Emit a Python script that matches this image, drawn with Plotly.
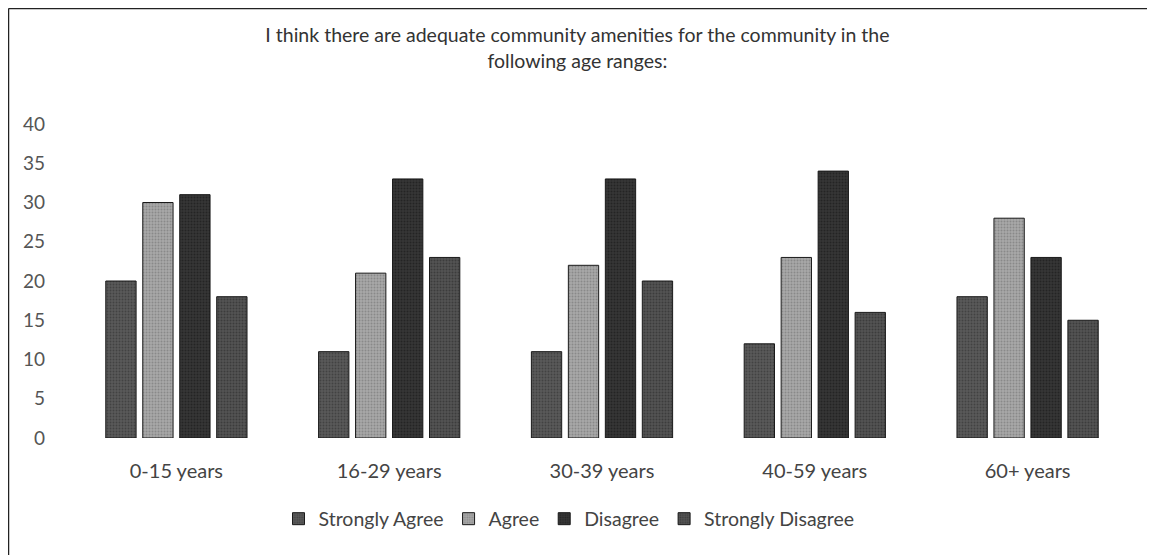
import plotly.graph_objects as go

# Survey responses by age range
age_ranges = ['0-15 years', '16-29 years', '30-39 years', '40-59 years', '60+ years']
strongly_agree = [20, 11, 11, 12, 18]
agree = [30, 21, 22, 23, 28]
disagree = [31, 33, 33, 34, 23]
strongly_disagree = [18, 23, 20, 16, 15]

series = [
    ('Strongly Agree', strongly_agree, '#5a5a5a', '#2a2a2a'),
    ('Agree', agree, '#a8a8a8', '#6a6a6a'),
    ('Disagree', disagree, '#363636', '#111111'),
    ('Strongly Disagree', strongly_disagree, '#535353', '#262626'),
]

fig = go.Figure()
for name, vals, col, dot in series:
    fig.add_trace(go.Bar(
        x=age_ranges, y=vals, name=name,
        marker=dict(
            color=col,
            line=dict(color='#1a1a1a', width=1),
            pattern=dict(shape='.', fgcolor=dot, bgcolor=col, size=3, solidity=0.35),
        ),
    ))

font_family = 'Lato, Open Sans, sans-serif'

# the page adds ~7px of body margin, margins below compensate for it
L, R, T, B = 62, 29, 116, 125
PW, PH = 1155 - L - R, 555 - T - B

fig.update_layout(
    width=1155, height=555,
    margin=dict(l=L, r=R, t=T, b=B),
    paper_bgcolor='white', plot_bgcolor='white',
    barmode='group', bargap=0.305, bargroupgap=0.18,
    title=dict(
        text='I think there are adequate community amenities for the community in the<br>following age ranges:',
        x=0.493, xanchor='center', y=0.938, yanchor='middle',
        font=dict(family=font_family, size=19.5, color='#333333'),
    ),
    font=dict(family=font_family, color='#333333'),
    xaxis=dict(
        showgrid=False, showline=False, zeroline=False,
        tickfont=dict(size=20, color='#444444'), ticklabelstandoff=19,
    ),
    yaxis=dict(
        range=[0, 40], dtick=5, showgrid=False, showline=False, zeroline=False,
        tickfont=dict(size=19, color='#555555'), ticklabelstandoff=24,
    ),
    legend=dict(
        orientation='h', x=(561 - L) / PW, xanchor='center', y=-0.258, yanchor='middle',
        font=dict(size=19.5, color='#444444'), itemwidth=30,
    ),
)

# chart frame (left and top edges visible in the scan)
fx = (0.5 - L) / PW
fy = (555 - B - 0.5) / PH
fig.add_shape(type='line', xref='paper', yref='paper',
              x0=fx, x1=fx, y0=fy, y1=-(B + 10) / PH,
              line=dict(color='#222222', width=1.5))
fig.add_shape(type='line', xref='paper', yref='paper',
              x0=fx, x1=(1143 - L) / PW, y0=fy, y1=fy,
              line=dict(color='#222222', width=1.5))

fig.write_html('out.html')
